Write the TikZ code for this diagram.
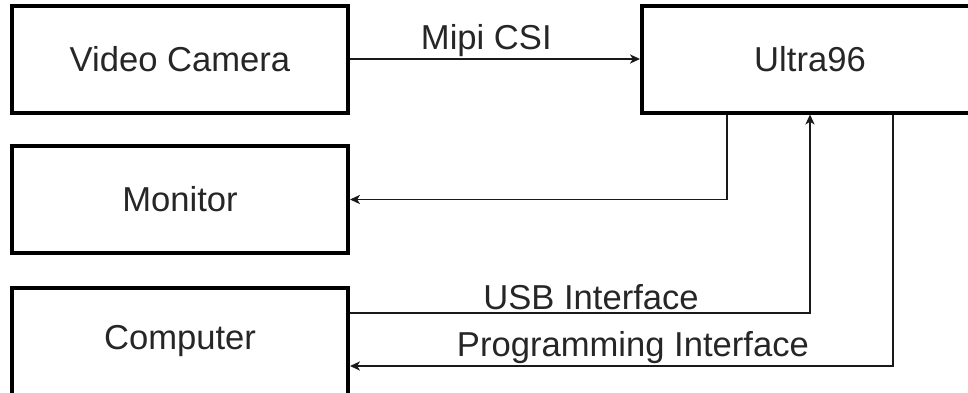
\documentclass[tikz,border=0pt]{standalone}
\usepackage{fontspec}
\setmainfont{Liberation Sans}
\usetikzlibrary{arrows.meta}
\tikzset{
  blk/.style={draw=black, line width=2pt, minimum width=336pt*0.5, minimum height=107pt*0.5,
    text=black!85, font=\fontsize{17.3pt}{20pt}\selectfont},
  arr/.style={draw=black!90, line width=0.7pt, -{Stealth[length=5pt,width=4.6pt,inset=1.4pt]}},
  lbl/.style={anchor=base, inner sep=0pt, text=black!85, font=\fontsize{17.3pt}{20pt}\selectfont}
}
\begin{document}
\begin{tikzpicture}[x=0.5pt, y=-0.5pt]
\useasboundingbox (0,0) rectangle (968,392);
\clip (0,0) rectangle (968,392);
\node[blk] (cam) at (180,59) {Video Camera};
\node[blk] (u96) at (810,59) {Ultra96};
\node[blk] (mon) at (180,199.5) {Monitor};
\node[blk] (pc) at (180,341) {Computer};
\coordinate (monout) at (727,199.5);
\coordinate (usbin) at (810,313);
\coordinate (pgm) at (893,366);
\draw[arr] (cam) -- node[lbl, pos=0.47, yshift=5pt] {Mipi CSI} (u96);
\draw[arr] (u96.south -| monout) -- (monout) -- (mon.east);
\draw[arr] (pc.east |- usbin) -- node[lbl, pos=0.524, yshift=1.8pt] {USB Interface} (usbin) -- (u96.south -| usbin);
\draw[arr] (u96.south -| pgm) -- (pgm) -- node[lbl, pos=0.479, yshift=5pt] {Programming Interface} (pc.east |- pgm);
\end{tikzpicture}
\end{document}
